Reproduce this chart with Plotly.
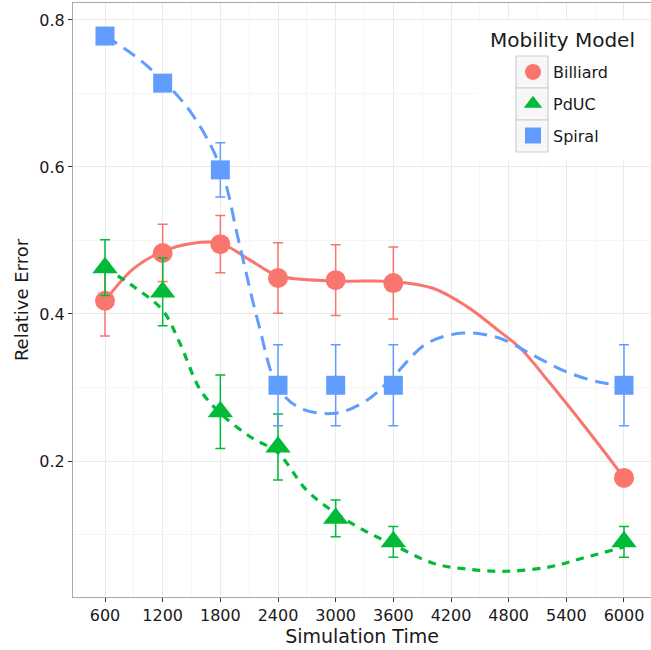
import plotly.graph_objects as go

# ---- data ----
sim_time = [600, 1200, 1800, 2400, 3000, 3600, 6000]

billiard = [0.418, 0.483, 0.495, 0.449, 0.446, 0.442, 0.177]
billiard_err = [0.048, 0.039, 0.039, 0.048, 0.048, 0.049, 0.0]

pduc = [0.463, 0.430, 0.267, 0.219, 0.122, 0.090, 0.090]
pduc_err = [0.038, 0.046, 0.050, 0.045, 0.025, 0.021, 0.021]

spiral = [0.778, 0.714, 0.596, 0.303, 0.303, 0.303, 0.303]
spiral_err = [0.0, 0.0, 0.037, 0.055, 0.055, 0.055, 0.055]

# smoothed trend lines
billiard_fit_x = [600, 900, 1200, 1500, 1800, 2100, 2400, 3000, 3600, 4013, 4367, 4708, 4917, 5229, 5781, 6000]
billiard_fit_y = [0.418, 0.462, 0.485, 0.496, 0.496, 0.474, 0.452, 0.445, 0.444, 0.435, 0.410, 0.376, 0.354, 0.306, 0.215, 0.177]

spiral_fit_x = [600, 900, 1200, 1500, 1800, 1995, 2195, 2400, 2630, 3000, 3330, 3600, 3950, 4330, 4708, 5052, 5406, 5750, 6000]
spiral_fit_y = [0.778, 0.752, 0.718, 0.673, 0.600, 0.497, 0.388, 0.300, 0.272, 0.265, 0.283, 0.315, 0.360, 0.374, 0.367, 0.344, 0.321, 0.307, 0.303]

pduc_fit_x = [600, 900, 1200, 1380, 1590, 1800, 2110, 2400, 2700, 3000, 3290, 3600, 4013, 4360, 4775, 5229, 5573, 6000]
pduc_fit_y = [0.463, 0.437, 0.405, 0.360, 0.297, 0.265, 0.233, 0.211, 0.160, 0.129, 0.106, 0.086, 0.061, 0.053, 0.050, 0.056, 0.068, 0.083]

x_ticks = [600, 1200, 1800, 2400, 3000, 3600, 4200, 4800, 5400, 6000]
y_ticks = [0.2, 0.4, 0.6, 0.8]
legend_title = "Mobility Model"

RED, GREEN, BLUE = "#F8766D", "#00BA38", "#619CFF"
FONT = "DejaVu Sans"
TXT = "#1a1a1a"

W, H = 651, 650
ML, MR, MT, MB = 73, 0, 3, 53
PW, PH = W - ML - MR, H - MT - MB


def px(x):
    return (x - ML) / PW


def py(y):
    return (H - MB - y) / PH


fig = go.Figure()

# trend lines
fig.add_trace(go.Scatter(x=billiard_fit_x, y=billiard_fit_y, mode="lines", line=dict(color=RED, width=3, shape="spline"), showlegend=False, hoverinfo="skip"))
fig.add_trace(go.Scatter(x=pduc_fit_x, y=pduc_fit_y, mode="lines", line=dict(color=GREEN, width=3.2, shape="spline", dash="8px,7px"), showlegend=False, hoverinfo="skip"))
fig.add_trace(go.Scatter(x=spiral_fit_x, y=spiral_fit_y, mode="lines", line=dict(color=BLUE, width=3, shape="spline", dash="14px,8px"), showlegend=False, hoverinfo="skip"))

# points with error bars
series = [
    ("Billiard", billiard, billiard_err, RED, "circle", 20, "g1"),
    ("PdUC", pduc, pduc_err, GREEN, "triangle-up", 22, "g2"),
    ("Spiral", spiral, spiral_err, BLUE, "square", 19, "g3"),
]
for name, vals, err, col, sym, sz, grp in series:
    fig.add_trace(go.Scatter(
        x=sim_time, y=vals, mode="markers", name=name, legendgroup=grp,
        marker=dict(color=col, symbol=sym, size=sz, line=dict(width=0)),
        error_y=dict(type="data", array=err, visible=True, color=col, thickness=1.5, width=5),
    ))

# legend background and key boxes (ggplot style)
shapes = [
    dict(type="rect", xref="paper", yref="paper", x0=px(478), x1=px(651), y0=py(160), y1=py(21),
         fillcolor="white", line=dict(width=0), layer="above"),
]
for top, bot in [(56, 88), (88, 120), (120, 152)]:
    shapes.append(dict(type="rect", xref="paper", yref="paper", x0=px(516), x1=px(548), y0=py(bot), y1=py(top),
                       fillcolor="#F7F7F7", line=dict(color="#CFCFCF", width=1.2), layer="above"))

fig.update_layout(
    width=W, height=H,
    margin=dict(l=ML, r=MR, t=MT, b=MB),
    paper_bgcolor="white", plot_bgcolor="white",
    font=dict(family=FONT, color=TXT, size=16),
    shapes=shapes,
    annotations=[dict(text=legend_title, xref="paper", yref="paper", x=px(562), y=py(40),
                      xanchor="center", yanchor="middle", showarrow=False,
                      font=dict(size=20, color=TXT, family=FONT))],
    legend=dict(
        x=px(513), y=py(55), xanchor="left", yanchor="top",
        bgcolor="rgba(0,0,0,0)", font=dict(size=16, color=TXT),
        tracegroupgap=8, itemsizing="trace",
    ),
)
fig.update_xaxes(
    range=[267, 6281], tickmode="array", tickvals=x_ticks, automargin=False,
    ticks="outside", ticklen=4, tickcolor="#333333", tickfont=dict(size=16, color=TXT),
    showgrid=True, gridcolor="#EBEBEB", gridwidth=1,
    minor=dict(tickmode="array", tickvals=[v + 300 for v in x_ticks], showgrid=True, gridcolor="#F5F5F5", ticks=""),
    showline=True, linecolor="#A8A8A8", linewidth=1, mirror=True, zeroline=False,
    title=dict(text="Simulation Time", font=dict(size=19, color=TXT), standoff=4),
)
fig.update_yaxes(
    range=[0.015, 0.823], tickmode="array", tickvals=y_ticks, ticktext=["0.2", "0.4", "0.6", "0.8"], automargin=False,
    ticks="outside", ticklen=4, tickcolor="#333333", tickfont=dict(size=16, color=TXT),
    showgrid=True, gridcolor="#EBEBEB", gridwidth=1,
    minor=dict(tickmode="array", tickvals=[0.1, 0.3, 0.5, 0.7], showgrid=True, gridcolor="#F5F5F5", ticks=""),
    showline=True, linecolor="#A8A8A8", linewidth=1, mirror=True, zeroline=False,
    title=dict(text="Relative Error", font=dict(size=18, color=TXT), standoff=6),
)

fig.write_html("out.html", config={"displayModeBar": False},
               post_script="document.body.style.margin='0';document.body.style.overflow='hidden';")
